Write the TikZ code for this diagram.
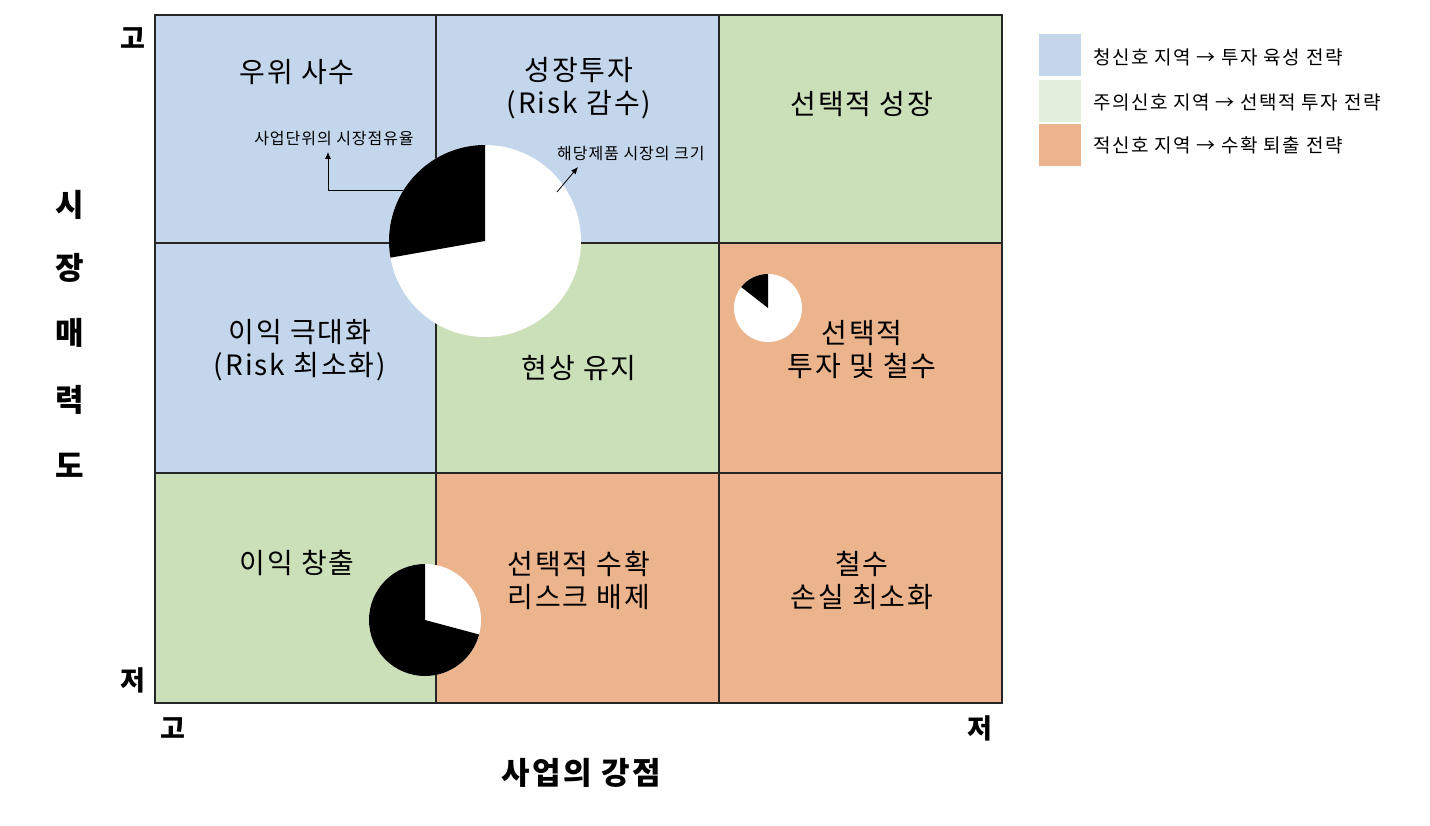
\documentclass[tikz,border=0pt]{standalone}
\usepackage{fontspec}
\setmainfont{Noto Sans CJK KR}
\usetikzlibrary{arrows.meta}
\definecolor{cblue}{HTML}{C3D6EC}
\definecolor{cgreen}{HTML}{CBDFB9}
\definecolor{corange}{HTML}{ECB48C}
\definecolor{lgreen}{HTML}{E3EFDA}
\definecolor{gridc}{HTML}{262626}
\begin{document}
\begin{tikzpicture}[x=1pt,y=-1pt,
  gridline/.style={draw=gridc,line width=1.3pt},
  celltext/.style={align=center,inner sep=0pt,font=\fontsize{28}{33}\selectfont\addfontfeatures{LetterSpace=7}},
  axislabel/.style={inner sep=0pt,font=\fontsize{31}{34}\selectfont\bfseries\addfontfeatures{LetterSpace=8}},
  cornerlabel/.style={inner sep=0pt,font=\fontsize{27}{30}\selectfont\bfseries},
  smalltext/.style={inner sep=0pt,font=\fontsize{16}{18}\selectfont\addfontfeatures{LetterSpace=6}},
  legendtext/.style={anchor=west,inner sep=0pt,font=\fontsize{19}{22}\selectfont\addfontfeatures{LetterSpace=8}},
  piebase/.style={circle,fill=white,inner sep=0pt},
  pointer/.style={draw=black,line width=0.8pt,-{Latex[length=7pt,width=6pt]}}]
\useasboundingbox[fill=white] (0,0) rectangle (1430,826);
% cells
\fill[cblue]   (155,15)  rectangle (436,243);
\fill[cblue]   (436,15)  rectangle (719,243);
\fill[cgreen]  (719,15)  rectangle (1002,243);
\fill[cblue]   (155,243) rectangle (436,473);
\fill[cgreen]  (436,243) rectangle (719,473);
\fill[corange] (719,243) rectangle (1002,473);
\fill[cgreen]  (155,473) rectangle (436,703);
\fill[corange] (436,473) rectangle (719,703);
\fill[corange] (719,473) rectangle (1002,703);
% grid
\draw[gridline] (155,15) rectangle (1002,703);
\draw[gridline] (436,15) -- (436,703);
\draw[gridline] (719,15) -- (719,703);
\draw[gridline] (155,243) -- (1002,243);
\draw[gridline] (155,473) -- (1002,473);
% cell texts
\node[celltext] (c11) at (297,72) {우위 사수};
\node[celltext] (c12) at (579,88) {성장투자\\(Risk 감수)};
\node[celltext] (c13) at (862,104) {선택적 성장};
\node[celltext] (c21) at (300,350) {이익 극대화\\(Risk 최소화)};
\node[celltext] (c22) at (579,368) {현상 유지};
\node[celltext] (c23) at (862,350) {선택적\\투자 및 철수};
\node[celltext] (c31) at (297,563) {이익 창출};
\node[celltext] (c32) at (579,580) {선택적 수확\\리스크 배제};
\node[celltext] (c33) at (862,580) {철수\\손실 최소화};
% pies
\node[piebase,minimum size=192pt] (pie1) at (485,241) {};
\fill[black] (pie1.center) -- ++(-90:96) arc[start angle=-90,end angle=-190,radius=96] -- cycle;
\node[piebase,minimum size=68pt] (pie2) at (768,308) {};
\fill[black] (pie2.center) -- ++(-90:34) arc[start angle=-90,end angle=-142,radius=34] -- cycle;
\node[piebase,minimum size=112pt] (pie3) at (425,620) {};
\fill[black] (pie3.center) -- ++(-90:56) arc[start angle=-90,end angle=-345,radius=56] -- cycle;
% annotations
\node[smalltext] (lab1) at (334,139) {사업단위의 시장점유율};
\node[smalltext,anchor=west] (lab2) at (557,154) {해당제품 시장의 크기};
\coordinate (tip1) at (328,152);
\coordinate (tip2) at (578,167);
\coordinate (from2) at (557,192);
\draw[pointer] (pie1.148) -| (tip1);
\draw[pointer] (from2) -- (tip2);
% axes
\node[axislabel] (y1) at (70,205) {시};
\node[axislabel] (y2) at (70,268) {장};
\node[axislabel] (y3) at (70,333) {매};
\node[axislabel] (y4) at (70,400) {력};
\node[axislabel] (y5) at (70,465) {도};
\node[axislabel] (xl) at (581,773) {사업의 강점};
\node[cornerlabel] (yhi) at (133,38) {고};
\node[cornerlabel] (ylo) at (133,680) {저};
\node[cornerlabel] (xhi) at (173,728) {고};
\node[cornerlabel] (xlo) at (980,728) {저};
% legend
\fill[cblue]   (1039,34)  rectangle (1081,76);
\fill[lgreen]  (1039,80)  rectangle (1081,122);
\fill[corange] (1039,124) rectangle (1081,166);
\node[legendtext] (l1) at (1093,57)  {청신호 지역 → 투자 육성 전략};
\node[legendtext] (l2) at (1093,102) {주의신호 지역 → 선택적 투자 전략};
\node[legendtext] (l3) at (1093,145) {적신호 지역 → 수확 퇴출 전략};
\end{tikzpicture}
\end{document}
